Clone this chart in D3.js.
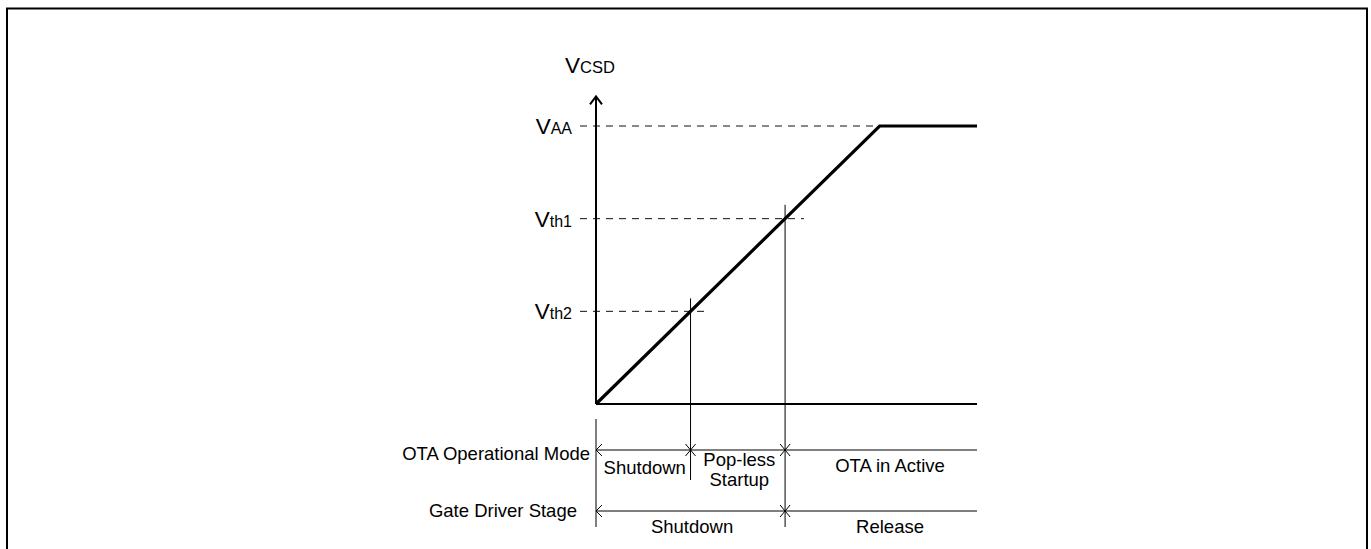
<!DOCTYPE html>
<html><head><meta charset="utf-8">
<script src="https://cdn.jsdelivr.net/npm/d3@7"></script>
<style>
html,body{margin:0;padding:0;background:#fff;}
svg{display:block;font-family:"Liberation Sans",Arial,sans-serif;}
</style></head><body>
<svg id="chart" width="1371" height="549"></svg>
<script>
// ---- data ----
const levelNames = ["AA", "th1", "th2"];
const levelValues = [3, 2, 1];
const curveT = [0, 3, 4.03];
const curveV = [0, 3, 3];
const otaBounds = [0, 1, 2, 4.03];
const otaLabels = [["Shutdown"], ["Pop-less", "Startup"], ["OTA in Active"]];
const gateBounds = [0, 2, 4.03];
const gateLabels = ["Shutdown", "Release"];
const rowTitles = ["OTA Operational Mode", "Gate Driver Stage"];

const svg = d3.select("#chart");
// frame
svg.append("rect").attr("x", 7).attr("y", 8.5).attr("width", 1360).attr("height", 600)
  .attr("fill", "none").attr("stroke", "#000").attr("stroke-width", 2);

const x = d3.scaleLinear().domain([0, 4.03]).range([596, 977]);
const y = d3.scaleLinear().domain([0, 3]).range([404, 126]);
const yTop = 3.32;

// dashed guides
levelValues.forEach((v, i) => {
  const tEnd = v === 3 ? 2.98 : v + 0.2;
  svg.append("line").attr("x1", 580).attr("x2", x(tEnd)).attr("y1", y(v)).attr("y2", y(v))
    .attr("stroke", "#111").attr("stroke-width", 1).attr("stroke-dasharray", "7,6");
  const t = svg.append("text").attr("x", 572).attr("y", y(v) + 8).attr("text-anchor", "end");
  t.append("tspan").attr("font-size", 22.5).text("V");
  t.append("tspan").attr("font-size", 16).text(levelNames[i]);
});

// axes
svg.append("line").attr("x1", x(0)).attr("x2", x(0)).attr("y1", y(0)).attr("y2", y(yTop))
  .attr("stroke", "#000").attr("stroke-width", 2);
svg.append("path").attr("d", `M${x(0)-6},${y(yTop)+8}L${x(0)},${y(yTop)}L${x(0)+6},${y(yTop)+8}`)
  .attr("fill", "none").attr("stroke", "#000").attr("stroke-width", 2);
svg.append("line").attr("x1", x(0)).attr("x2", x(4.03)).attr("y1", y(0)).attr("y2", y(0))
  .attr("stroke", "#000").attr("stroke-width", 2);
const yl = svg.append("text").attr("x", 565).attr("y", 73);
yl.append("tspan").attr("font-size", 22.5).text("V");
yl.append("tspan").attr("font-size", 16.5).text("CSD");

// ramp
const line = d3.line().x(d => x(d[0])).y(d => y(d[1]));
svg.append("path").datum(curveT.map((t, i) => [t, curveV[i]])).attr("d", line)
  .attr("fill", "none").attr("stroke", "#000").attr("stroke-width", 3.2);

// timeline rows
const rowY = [450, 511];
const titleDy = [9.5, 6];
const titleX = [590, 577];
// vertical markers
svg.append("line").attr("x1", x(0)).attr("x2", x(0)).attr("y1", 419).attr("y2", 527).attr("stroke", "#000");
svg.append("line").attr("x1", x(1)).attr("x2", x(1)).attr("y1", y(1.14)).attr("y2", 480).attr("stroke", "#000");
svg.append("line").attr("x1", x(2)).attr("x2", x(2)).attr("y1", y(2.15)).attr("y2", 527).attr("stroke", "#000");

function row(bounds, ry, labels, title, tdy, tx) {
  svg.append("line").attr("x1", x(bounds[0])).attr("x2", x(bounds[bounds.length-1]))
    .attr("y1", ry).attr("y2", ry).attr("stroke", "#000");
  svg.append("path").attr("d", `M${x(0)+6},${ry-6}L${x(0)},${ry}L${x(0)+6},${ry+6}`)
    .attr("fill", "none").attr("stroke", "#000");
  bounds.slice(1, -1).forEach(b => {
    svg.append("path").attr("d", `M${x(b)-5},${ry-6}L${x(b)+5},${ry+6}M${x(b)-5},${ry+6}L${x(b)+5},${ry-6}`)
      .attr("fill", "none").attr("stroke", "#000");
  });
  svg.append("text").attr("x", tx).attr("y", ry + tdy).attr("text-anchor", "end")
    .attr("font-size", 18.5).text(title);
  labels.forEach((lab, i) => {
    const last = i === labels.length - 1;
    const cx = (x(bounds[i]) + x(bounds[i+1])) / 2 + (last ? 9 : 1.5);
    const lines = Array.isArray(lab) ? lab : [lab];
    lines.forEach((s, k) => {
      let off = lines.length > 1 ? 16 + k * 19.5 : 22;
      if (i === 0 && bounds.length > 3) off = 24;
      svg.append("text").attr("x", cx).attr("y", ry + off).attr("text-anchor", "middle")
        .attr("font-size", 18.5).text(s);
    });
  });
}
row(otaBounds, rowY[0], otaLabels, rowTitles[0], titleDy[0], titleX[0]);
row(gateBounds, rowY[1], gateLabels, rowTitles[1], titleDy[1], titleX[1]);
</script>
</body></html>
